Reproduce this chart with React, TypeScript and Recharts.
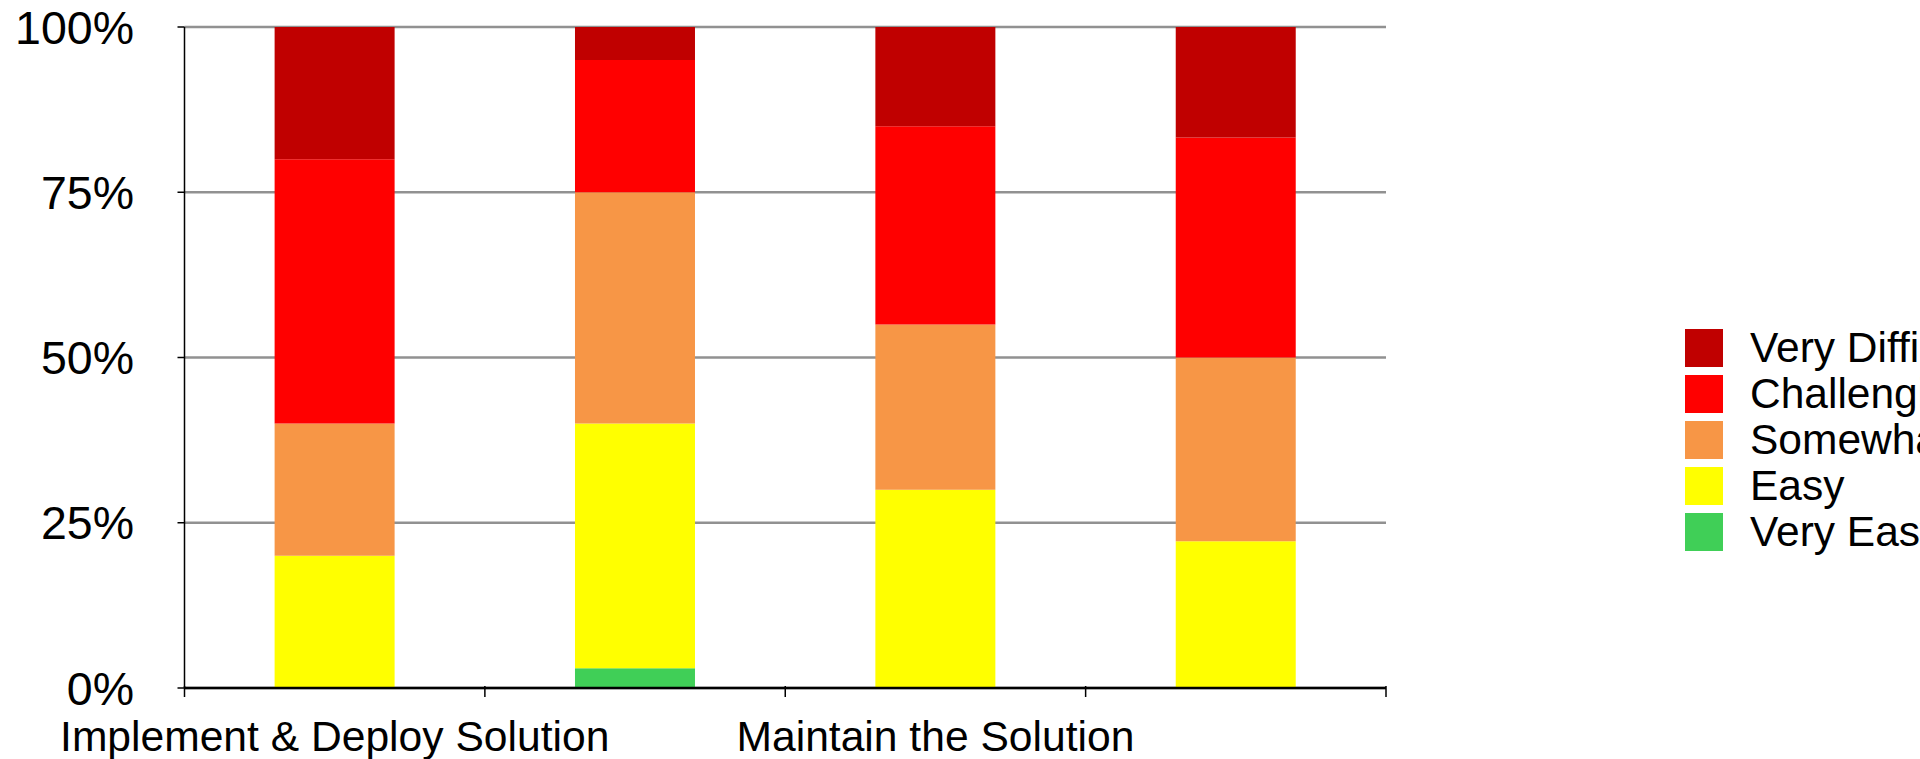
import { BarChart, Bar, XAxis, YAxis, CartesianGrid, Legend } from 'recharts';

// categories 2 and 4 have no visible label in the source chart
const categories = ['Implement & Deploy Solution', 'Stage 2', 'Maintain the Solution', 'Stage 4'];
const tickLabels = ['Implement & Deploy Solution', '', 'Maintain the Solution', ''];

const veryEasy = [0, 3, 0, 0];
const easy = [20, 37, 30, 22.2];
const somewhat = [20, 35, 25, 27.8];
const challenging = [40, 20, 30, 33.3];
const veryDifficult = [20, 5, 15, 16.7];

const yTicks = [0, 25, 50, 75, 100];

const series = [
    { key: 'veryEasy', name: 'Very Easy', color: '#40CF57' },
    { key: 'easy', name: 'Easy', color: '#FFFF00' },
    { key: 'somewhat', name: 'Somewhat Challenging', color: '#F79646' },
    { key: 'challenging', name: 'Challenging', color: '#FF0000' },
    { key: 'veryDifficult', name: 'Very Difficult', color: '#C00000' },
];

const data = categories.map((name, i) => ({
    name,
    veryEasy: veryEasy[i],
    easy: easy[i],
    somewhat: somewhat[i],
    challenging: challenging[i],
    veryDifficult: veryDifficult[i],
}));

const FONT = '"Liberation Sans", Arial, sans-serif';

function XTick(props: any) {
    const { x, y, payload, index } = props;
    const half = payload.offset ?? 150;
    return (
        <g>
            <line x1={x - half} x2={x - half} y1={y - 2} y2={y + 9} stroke="#000" strokeWidth={1.5} />
            {index === categories.length - 1 && (
                <line x1={x + half} x2={x + half} y1={y - 2} y2={y + 9} stroke="#000" strokeWidth={1.5} />
            )}
            <text x={x} y={y + 63} textAnchor="middle" fontSize={42.6} fontFamily={FONT} fill="#000">
                {tickLabels[index]}
            </text>
        </g>
    );
}

// top of the stack first, like the source legend
function LegendBox(props: any) {
    const order = series.map((s) => s.name);
    const items = [...(props.payload || [])].sort((a: any, b: any) => order.indexOf(b.value) - order.indexOf(a.value));
    return (
        <div style={{ fontFamily: FONT, whiteSpace: 'nowrap' }}>
            {items.map((it: any) => (
                <div key={it.value} style={{ display: 'flex', alignItems: 'center', height: 38, marginBottom: 8 }}>
                    <div style={{ width: 38, height: 38, background: it.color }} />
                    <span style={{ marginLeft: 27, fontSize: 42.5, lineHeight: '38px', color: '#000' }}>{it.value}</span>
                </div>
            ))}
        </div>
    );
}

export default function App() {
    return (
        <div style={{ position: 'absolute', left: 0, top: 0, width: 1920, height: 759, overflow: 'hidden', background: '#fff' }}>
            <BarChart width={1920} height={759} data={data} barCategoryGap="30%"
                margin={{ top: 27, right: 534, bottom: 0, left: 0 }}>
                <CartesianGrid horizontal vertical={false} stroke="#919191" strokeWidth={2.5} />
                <XAxis dataKey="name" height={71} tickSize={0} tickMargin={0} tickLine={false} interval={0}
                    axisLine={{ stroke: '#000', strokeWidth: 2.5 }} tick={<XTick />} />
                <YAxis type="number" domain={[0, 100]} ticks={yTicks} width={184.5}
                    tickFormatter={(v) => `${v}%`} tickSize={7} tickMargin={43.5}
                    axisLine={{ stroke: '#000', strokeWidth: 1.5 }} tickLine={{ stroke: '#000', strokeWidth: 1.5 }}
                    tick={{ fontSize: 46.5, fill: '#000', fontFamily: FONT }} />
                <Legend layout="vertical" align="center" verticalAlign="middle"
                    wrapperStyle={{ left: 1685, top: 329, width: 'auto' }} content={<LegendBox />} />
                {series.map((s) => (
                    <Bar key={s.key} dataKey={s.key} name={s.name} stackId="a" fill={s.color} isAnimationActive={false} />
                ))}
            </BarChart>
        </div>
    );
}
